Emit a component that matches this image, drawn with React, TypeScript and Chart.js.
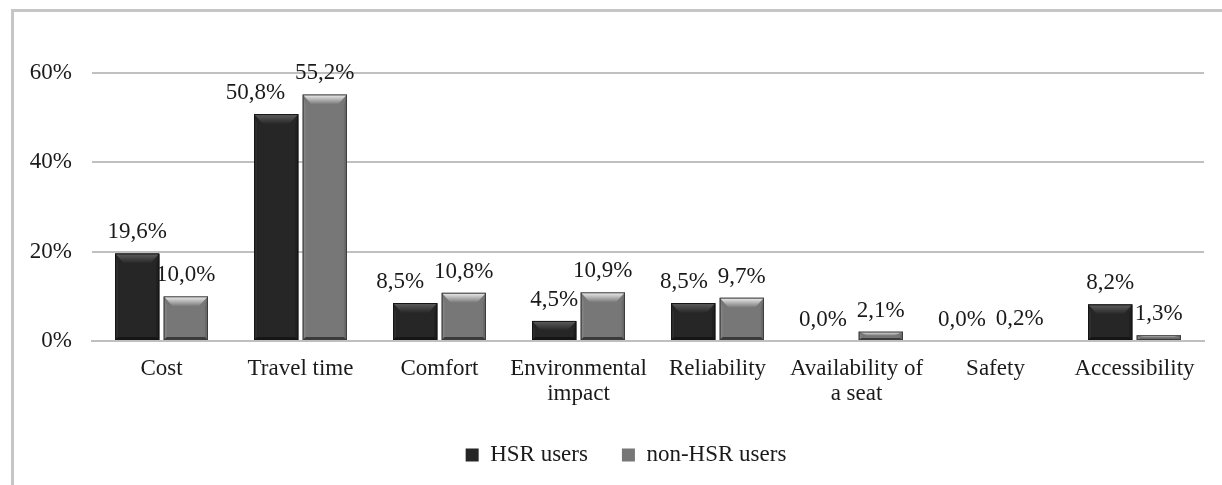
import React, { useEffect, useRef } from "react";
import { Chart, registerables } from "chart.js";

Chart.register(...registerables);

const categories: (string | string[])[] = [
  "Cost",
  "Travel time",
  "Comfort",
  ["Environmental", "impact"],
  "Reliability",
  ["Availability of", "a seat"],
  "Safety",
  "Accessibility",
];
const hsrUsers = [19.6, 50.8, 8.5, 4.5, 8.5, 0.0, 0.0, 8.2];
const nonHsrUsers = [10.0, 55.2, 10.8, 10.9, 9.7, 2.1, 0.2, 1.3];
const seriesNames = ["HSR users", "non-HSR users"];
const yMin = 0;
const yMax = 60;
const yStep = 20;

const FONT = "'Liberation Serif', 'Times New Roman', serif";
Chart.defaults.font.family = FONT;

const palettes = [
  { body: "#262626", top: "#606060", left: "#2e2e2e", right: "#1f1f1f", bottom: "#151515", edge: "#141414" },
  { body: "#777777", top: "#f2f2f2", left: "#828282", right: "#6a6a6a", bottom: "#3a3a3a", edge: "#3c3c3c" },
];

const bevelPlugin = {
  id: "bevel",
  afterDatasetsDraw(chart: any) {
    const ctx = chart.ctx as CanvasRenderingContext2D;
    chart.data.datasets.forEach((_ds: any, di: number) => {
      const meta = chart.getDatasetMeta(di);
      const pal = palettes[di];
      meta.data.forEach((bar: any) => {
        const p = bar.getProps(["x", "y", "base", "width"], true);
        const l = p.x - p.width / 2;
        const r = p.x + p.width / 2;
        const t = Math.min(p.y, p.base);
        const b = Math.max(p.y, p.base);
        const h = b - t;
        if (h < 0.3) return;
        const d = Math.min(10, h / 2);
        const db = Math.min(3, h / 4);
        const dx = Math.min(9, p.width / 4);
        ctx.save();
        const poly = (pts: number[][], fill: any) => {
          ctx.beginPath();
          ctx.moveTo(pts[0][0], pts[0][1]);
          for (let i = 1; i < pts.length; i++) ctx.lineTo(pts[i][0], pts[i][1]);
          ctx.closePath();
          ctx.fillStyle = fill;
          ctx.fill();
        };
        const sx = Math.min(3, p.width / 8);
        poly([[l, t], [l + sx, t + d], [l + sx, b - db], [l, b]], pal.left);
        poly([[r, t], [r - sx, t + d], [r - sx, b - db], [r, b]], pal.right);
        poly([[l, b], [l + sx, b - db], [r - sx, b - db], [r, b]], pal.bottom);
        const g = ctx.createLinearGradient(0, t, 0, t + d);
        g.addColorStop(0, pal.top);
        g.addColorStop(1, pal.body);
        poly([[l, t], [r, t], [r - dx, t + d], [l + dx, t + d]], g);
        ctx.strokeStyle = pal.edge;
        ctx.lineWidth = 1;
        ctx.strokeRect(l + 0.5, t + 0.5, p.width - 1, Math.max(h - 1, 0));
        ctx.restore();
      });
    });
  },
};

const LABEL_SIZE = 23;

const valueLabelPlugin = {
  id: "valueLabels",
  afterDatasetsDraw(chart: any) {
    const ctx = chart.ctx as CanvasRenderingContext2D;
    ctx.save();
    ctx.font = `${LABEL_SIZE}px ${FONT}`;
    ctx.fillStyle = "#1a1a1a";
    ctx.textAlign = "center";
    ctx.textBaseline = "alphabetic";
    const metaA = chart.getDatasetMeta(0);
    const metaB = chart.getDatasetMeta(1);
    const dsA = chart.data.datasets[0];
    const dsB = chart.data.datasets[1];
    const fmt = (v: number) => v.toFixed(1).replace(".", ",") + "%";
    metaA.data.forEach((barA: any, i: number) => {
      const barB = metaB.data[i];
      const tA = fmt(dsA.data[i]);
      const tB = fmt(dsB.data[i]);
      const wA = ctx.measureText(tA).width;
      const wB = ctx.measureText(tB).width;
      let xA = barA.x;
      const xB = barB.x;
      const yA = barA.y - 15;
      const yB = barB.y - 15;
      // simple collision avoidance: push the first label left when the two overlap
      if (Math.abs(yA - yB) < LABEL_SIZE) {
        const gap = 10;
        const rightA = xA + wA / 2;
        const leftB = xB - wB / 2;
        if (rightA + gap > leftB) xA -= rightA + gap - leftB;
      }
      ctx.fillText(tA, xA, yA);
      ctx.fillText(tB, xB, yB);
    });
    ctx.restore();
  },
};

// nudge the legend block slightly right, as in the original
const legendShiftPlugin = {
  id: "legendShift",
  afterLayout(chart: any) {
    const lg = chart.legend;
    if (lg) {
      lg.left += 17;
      lg.right += 17;
    }
  },
};

export default function App() {
  const ref = useRef<HTMLCanvasElement | null>(null);

  useEffect(() => {
    if (!ref.current) return;
    const chart = new Chart(ref.current, {
      type: "bar",
      data: {
        labels: categories as any,
        datasets: [
          {
            label: seriesNames[0],
            data: hsrUsers,
            backgroundColor: palettes[0].body,
            borderWidth: 0,
            categoryPercentage: 0.7,
            barPercentage: 0.91,
          },
          {
            label: seriesNames[1],
            data: nonHsrUsers,
            backgroundColor: palettes[1].body,
            borderWidth: 0,
            categoryPercentage: 0.7,
            barPercentage: 0.91,
          },
        ],
      },
      options: {
        responsive: false,
        animation: false,
        layout: { padding: { top: 61, right: 18, bottom: 8.5, left: 0 } },
        plugins: {
          tooltip: { enabled: false },
          legend: {
            position: "bottom",
            labels: {
              boxWidth: 13,
              boxHeight: 13,
              padding: 34,
              color: "#1a1a1a",
              font: { family: FONT, size: 23 },
            },
          },
        },
        scales: {
          x: {
            grid: { display: false, drawTicks: false },
            border: { display: true, color: "#bfbfbf", width: 2 },
            ticks: {
              color: "#1a1a1a",
              padding: 15,
              maxRotation: 0,
              autoSkip: false,
              font: { family: FONT, size: 23, lineHeight: 1.1 },
            },
            afterFit(scale: any) {
              scale.height = 68.5;
            },
          },
          y: {
            min: yMin,
            max: yMax,
            grid: { color: "#c0c0c0", lineWidth: 2, drawTicks: false },
            border: { display: false },
            ticks: {
              stepSize: yStep,
              padding: 20,
              color: "#1a1a1a",
              font: { family: FONT, size: 23 },
              callback: (v: any) => `${v}%`,
            },
            afterFit(scale: any) {
              scale.width = 78;
            },
          },
        },
      },
      plugins: [bevelPlugin, valueLabelPlugin, legendShiftPlugin],
    });
    return () => chart.destroy();
  }, []);

  return (
    <div
      style={{
        position: "fixed",
        left: 11,
        top: 9,
        width: 1208,
        height: 473,
        borderTop: "3px solid #c6c6c6",
        borderLeft: "3px solid #c6c6c6",
        background: "#ffffff",
      }}
    >
      <canvas ref={ref} width={1208} height={473} style={{ display: "block" }} />
    </div>
  );
}
